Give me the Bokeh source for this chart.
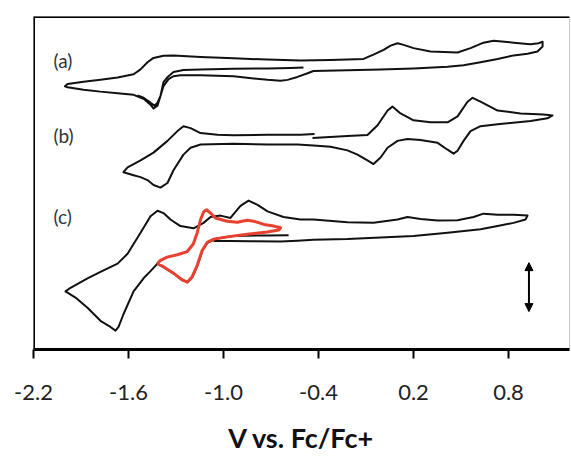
from bokeh.plotting import figure
from bokeh.models import Range1d, FixedTicker, NumeralTickFormatter, Span, Arrow, NormalHead, Label
from bokeh.embed import file_html
from bokeh.resources import INLINE

# ---- data (V vs Fc/Fc+, stacked current in arbitrary units) ----
a_volts = [-0.495, -0.577, -0.722, -0.937, -1.145, -1.253, -1.316, -1.354, -1.379, -1.398,
           -1.417, -1.442, -1.461, -1.505, -1.568, -1.669, -1.777, -1.884, -1.985, -2.001,
           -1.985, -1.884, -1.777, -1.669, -1.568, -1.524, -1.480, -1.442, -1.379, -1.316,
           -1.145, -0.937, -0.722, -0.514, -0.324, -0.116, -0.053, 0.011, 0.055, 0.099,
           0.137, 0.200, 0.307, 0.478, 0.560, 0.642, 0.705, 0.832, 0.939, 0.990,
           1.015, 1.015, 0.983, 0.920, 0.832, 0.731, 0.623, 0.516, 0.415, 0.200,
           -0.008, -0.217, -0.432, -0.469, -0.533, -0.596, -0.640, -0.722, -0.937, -1.145,
           -1.272, -1.316, -1.347, -1.379, -1.398, -1.417, -1.436, -1.461, -1.505, -1.543]
a_current = [28.80, 28.75, 28.70, 28.67, 28.60, 28.53, 28.33, 27.80, 27.30, 25.90,
             24.90, 24.60, 25.00, 25.60, 26.00, 26.17, 26.33, 26.53, 26.77, 26.87,
             27.10, 27.33, 27.53, 27.77, 28.10, 28.60, 29.33, 29.77, 30.00, 30.03,
             29.87, 29.73, 29.60, 29.50, 29.55, 29.67, 30.10, 30.60, 31.03, 31.27,
             31.10, 30.77, 30.43, 30.33, 30.77, 31.33, 31.53, 31.33, 31.17, 31.27,
             31.43, 30.93, 30.43, 30.20, 30.03, 29.67, 29.33, 29.03, 28.87, 28.70,
             28.60, 28.50, 28.43, 28.20, 27.83, 27.53, 27.43, 27.53, 27.90, 28.00,
             28.00, 27.90, 27.60, 26.90, 25.90, 25.20, 24.90, 25.20, 25.70, 25.93]

b_volts = [-0.438, -0.217, -0.091, -0.027, 0.036, 0.067, 0.118, 0.200, 0.307, 0.415,
           0.478, 0.541, 0.573, 0.623, 0.731, 0.876, 1.021, 1.078, 1.046, 0.939,
           0.731, 0.623, 0.560, 0.516, 0.478, 0.453, 0.415, 0.352, 0.244, 0.162,
           0.099, 0.036, -0.008, -0.053, -0.091, -0.154, -0.217, -0.324, -0.432, -0.533,
           -0.640, -0.722, -0.937, -1.145, -1.208, -1.253, -1.316, -1.354, -1.398, -1.442,
           -1.480, -1.524, -1.568, -1.632, -1.606, -1.524, -1.442, -1.354, -1.291, -1.253,
           -1.208, -1.145, -1.038, -0.937, -0.722, -0.514, -0.425]
b_current = [21.60, 21.80, 21.90, 22.90, 24.40, 24.80, 24.10, 23.40, 23.20, 23.20,
             23.80, 25.30, 25.70, 25.30, 24.40, 24.10, 24.00, 23.90, 23.60, 23.33,
             23.00, 22.80, 22.30, 21.30, 20.30, 20.00, 20.40, 21.10, 21.40, 21.50,
             21.30, 20.60, 19.60, 18.93, 19.30, 19.90, 20.33, 20.70, 20.83, 20.93,
             20.93, 20.93, 21.00, 20.93, 20.60, 19.90, 18.30, 17.00, 16.53, 16.80,
             17.30, 17.60, 17.80, 18.10, 18.60, 19.30, 20.10, 21.30, 22.30, 22.80,
             22.60, 22.10, 21.93, 21.87, 21.93, 21.93, 22.00]

c_volts = [-0.589, -0.722, -0.937, -1.051, -1.101, -1.133, -1.164, -1.196, -1.227, -1.259,
           -1.316, -1.379, -1.417, -1.461, -1.505, -1.568, -1.632, -1.663, -1.682, -1.714,
           -1.777, -1.859, -1.935, -1.985, -1.998, -1.966, -1.859, -1.777, -1.669, -1.606,
           -1.524, -1.461, -1.417, -1.379, -1.335, -1.272, -1.189, -1.126, -1.082, -1.019,
           -0.956, -0.893, -0.842, -0.785, -0.722, -0.621, -0.514, -0.432, -0.217, -0.053,
           0.099, 0.162, 0.244, 0.352, 0.478, 0.579, 0.642, 0.731, 0.832, 0.920,
           0.907, 0.832, 0.731, 0.623, 0.415, 0.200, -0.008, -0.217, -0.432, -0.533,
           -0.640, -0.829, -0.956, -1.063]
c_current = [11.67, 11.65, 11.60, 11.30, 10.90, 10.10, 8.60, 7.40, 6.90, 7.10,
             7.80, 8.40, 8.77, 8.00, 7.27, 5.93, 3.60, 2.30, 1.93, 2.30,
             2.93, 4.27, 5.30, 5.80, 5.93, 6.30, 7.27, 7.93, 8.77, 9.77,
             11.93, 13.60, 14.17, 13.93, 13.27, 12.60, 12.37, 12.93, 13.53, 13.67,
             13.43, 14.67, 15.20, 14.77, 14.10, 13.53, 13.27, 13.27, 13.00, 12.93,
             13.27, 13.53, 13.33, 13.17, 13.20, 13.53, 13.87, 13.77, 13.77, 13.67,
             13.27, 12.93, 12.60, 12.27, 11.93, 11.60, 11.43, 11.27, 11.20, 11.10,
             11.03, 11.05, 11.07, 11.07]

red_volts = [-1.418, -1.398, -1.356, -1.292, -1.229, -1.191, -1.166, -1.145, -1.124, -1.107,
             -1.082, -1.051, -0.977, -0.913, -0.850, -0.809, -0.745, -0.682, -0.640, -0.651,
             -0.724, -0.850, -0.977, -1.061, -1.103, -1.135, -1.166, -1.198, -1.229, -1.261,
             -1.314, -1.377, -1.418]
red_current = [8.77, 9.10, 9.43, 9.67, 10.00, 10.77, 11.93, 13.27, 14.10, 14.27,
               13.93, 13.43, 13.10, 13.00, 13.20, 13.10, 12.77, 12.60, 12.43, 12.20,
               12.00, 11.77, 11.50, 11.27, 10.93, 10.10, 8.60, 7.43, 6.87, 7.10,
               7.77, 8.43, 8.77]

trace_labels = ["(a)", "(b)", "(c)"]
label_volts = [-2.074, -2.074, -2.074]
label_current = [29.5, 21.9, 13.6]

x_ticks = [-2.2, -1.6, -1.0, -0.4, 0.2, 0.8]
x_title = "V vs. Fc/Fc+"

scale_bar_volts = 0.929
scale_bar_top = 8.87
scale_bar_bottom = 3.87

# ---- figure ----
p = figure(width=571, height=456, output_backend="svg", toolbar_location=None,
           x_range=Range1d(-2.2, 1.185), y_range=Range1d(0, 34),
           min_border_left=33, min_border_right=2, min_border_top=16, min_border_bottom=100)
p.background_fill_color = "white"
p.border_fill_color = "white"
p.grid.visible = False
p.yaxis.visible = False
p.outline_line_color = "#c8c8c8"
p.outline_line_width = 1

ax = p.xaxis[0]
ax.ticker = FixedTicker(ticks=x_ticks)
ax.formatter = NumeralTickFormatter(format="0.0")
ax.axis_line_color = "black"
ax.axis_line_width = 3
ax.major_tick_line_color = "black"
ax.major_tick_line_width = 2
ax.major_tick_in = 0
ax.major_tick_out = 9
ax.minor_tick_line_color = None
ax.major_label_text_font = "Lato"
ax.major_label_text_font_size = "22px"
ax.major_label_text_color = "#222222"
ax.major_label_standoff = 26
ax.axis_label = x_title
ax.axis_label_text_font = "Lato"
ax.axis_label_text_font_style = "bold"
ax.axis_label_text_font_size = "27px"
ax.axis_label_text_color = "#111111"
ax.axis_label_standoff = 18

p.add_layout(Span(location=-2.2, dimension="height", line_color="black", line_width=3))
p.add_layout(Span(location=34, dimension="width", line_color="black", line_width=3))

lw = 2
p.line(a_volts, a_current, line_color="#111111", line_width=lw, line_join="round")
p.line(b_volts, b_current, line_color="#111111", line_width=lw, line_join="round")
p.line(c_volts, c_current, line_color="#111111", line_width=lw, line_join="round")
p.line(red_volts, red_current, line_color="#e8412f", line_width=3, line_join="round")

for t, xv, yv in zip(trace_labels, label_volts, label_current):
    p.add_layout(Label(x=xv, y=yv, text=t, text_font="Lato", text_font_size="19px",
                       text_color="#333333", text_baseline="middle", text_align="left"))

p.add_layout(Arrow(start=NormalHead(size=8, fill_color="black", line_color="black"),
                   end=NormalHead(size=8, fill_color="black", line_color="black"),
                   x_start=scale_bar_volts, y_start=scale_bar_bottom,
                   x_end=scale_bar_volts, y_end=scale_bar_top,
                   line_color="black", line_width=2))

open("out.html", "w").write(file_html(p, INLINE))
